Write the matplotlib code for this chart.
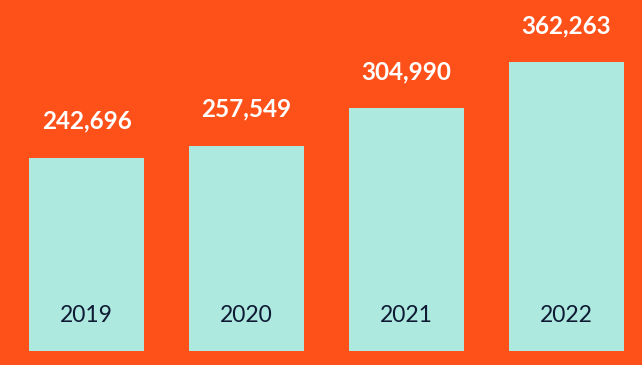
import matplotlib
matplotlib.use("Agg")
import matplotlib.pyplot as plt

years = ["2019", "2020", "2021", "2022"]
values = [242696, 257549, 304990, 362263]

BG = "#FE5019"
BAR = "#ADE9DF"
DARK = "#0F1A33"

W, H = 642, 365
fig = plt.figure(figsize=(W / 100, H / 100), dpi=100, facecolor=BG)
bottom_px = 14
ax = fig.add_axes([0, bottom_px / H, 1, (H - bottom_px) / H])
ax.set_facecolor(BG)
px_per_unit = 1255.0
ax.set_ylim(0, (H - bottom_px) * px_per_unit)
step = 160.0
first_center = 86.5
ax.set_xlim(-first_center / step, (W - first_center) / step)
xs = list(range(len(years)))
ax.bar(xs, values, width=115 / step, color=BAR, linewidth=0, zorder=1)

for x, v, y in zip(xs, values, years):
    ax.annotate(f"{v:,}", (x, v), xytext=(0, 29 * 0.72), textcoords="offset points",
                ha="center", va="baseline", color="white", fontsize=17.5,
                fontweight="bold", family=["Lato", "DejaVu Sans"], zorder=5)
    ax.annotate(y, (x, 0), xytext=(0, 29 * 0.72), textcoords="offset points",
                ha="center", va="baseline", color=DARK, fontsize=16.5,
                fontweight="normal", family=["Lato", "DejaVu Sans"], zorder=5)

ax.axis("off")
fig.savefig("out.png", dpi=100, facecolor=BG)
